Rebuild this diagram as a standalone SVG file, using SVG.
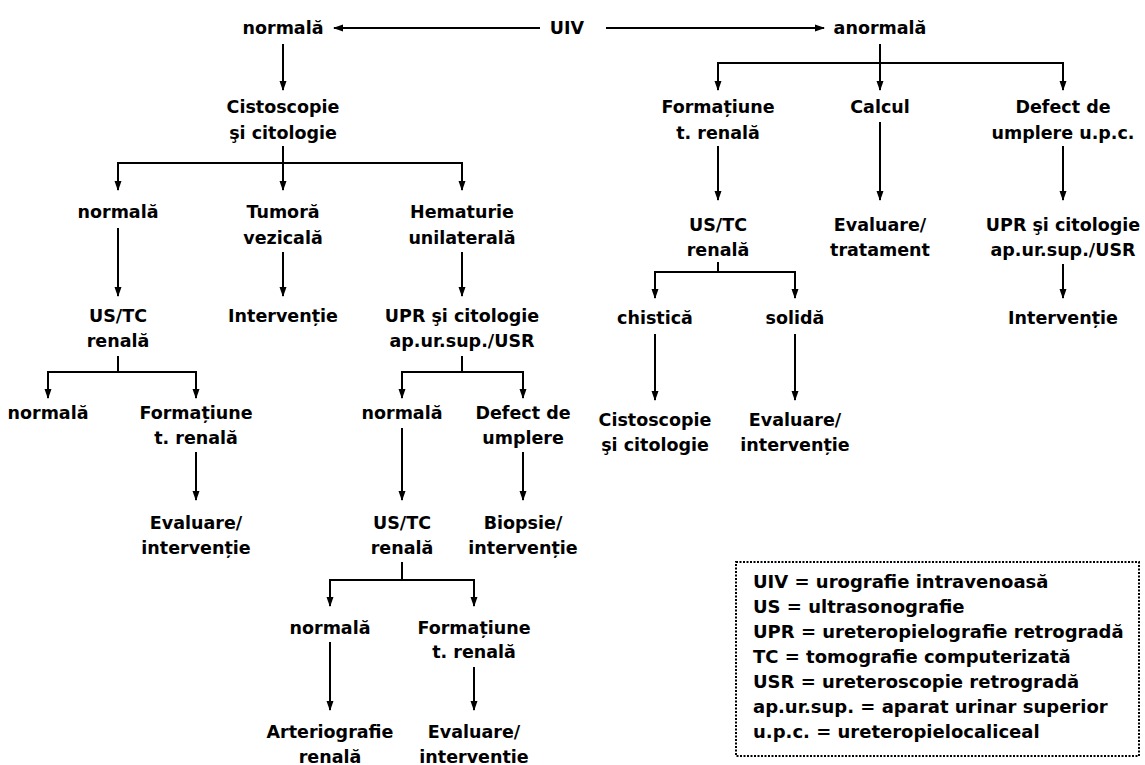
<svg xmlns="http://www.w3.org/2000/svg" width="1145" height="765" viewBox="0 0 1145 765">
<defs>
<style>
text{font-family:"DejaVu Sans","Liberation Sans",sans-serif;font-weight:bold;font-size:17.5px;fill:#000}
.n text{text-anchor:middle}
.c path{fill:none;stroke:#000;stroke-width:2;marker-end:url(#ah)}
.lg rect{fill:none;stroke:#000;stroke-width:2;stroke-dasharray:2 1.5}
.lg text{font-size:18px}
</style>
<marker id="ah" markerUnits="userSpaceOnUse" markerWidth="10" markerHeight="8" refX="9" refY="4" orient="auto">
<path d="M0,0.5 L10,4 L0,7.5 z" fill="#000"/>
</marker>
</defs>
<rect width="1145" height="765" fill="#fff"/>
<g class="c" id="connectors">
<path d="M540,28 H334"/>
<path d="M606,28 H824"/>
<path d="M283,44 V90"/>
<path d="M283,146 V190"/>
<path d="M283,163 H118 V190"/>
<path d="M283,163 H462 V190"/>
<path d="M118,228 V296"/>
<path d="M283,252 V296"/>
<path d="M462,252 V296"/>
<path d="M118,356 V372 H48 V398"/>
<path d="M118,372 H196 V398"/>
<path d="M196,452 V500"/>
<path d="M462,356 V372 H402 V398"/>
<path d="M462,372 H523 V398"/>
<path d="M402,428 V500"/>
<path d="M523,452 V500"/>
<path d="M402,562 V580 H330 V606"/>
<path d="M402,580 H474 V606"/>
<path d="M330,642 V710"/>
<path d="M474,667 V710"/>
<path d="M880,44 V90"/>
<path d="M880,63 H718 V90"/>
<path d="M880,63 H1063 V90"/>
<path d="M718,146 V200"/>
<path d="M880,122 V200"/>
<path d="M1063,146 V200"/>
<path d="M718,262 V272 H655 V298"/>
<path d="M718,272 H795 V298"/>
<path d="M1063,264 V298"/>
<path d="M655,334 V400"/>
<path d="M795,334 V400"/>
</g>
<g class="n">
<g id="n-normala0"><text x="283" y="34">normală</text></g>
<g id="n-uiv"><text x="567" y="34">UIV</text></g>
<g id="n-anormala"><text x="880" y="34">anormală</text></g>
<g id="n-cisto1"><text x="283" y="113">Cistoscopie</text><text x="283" y="139">şi citologie</text></g>
<g id="n-norm1"><text x="118" y="218">normală</text></g>
<g id="n-tumora"><text x="283" y="218">Tumoră</text><text x="283" y="244">vezicală</text></g>
<g id="n-hemat"><text x="462" y="218">Hematurie</text><text x="462" y="244">unilaterală</text></g>
<g id="n-ustc1"><text x="118" y="322">US/TC</text><text x="118" y="347">renală</text></g>
<g id="n-interv1"><text x="283" y="322">Intervenție</text></g>
<g id="n-upr1"><text x="462" y="322">UPR şi citologie</text><text x="462" y="347">ap.ur.sup./USR</text></g>
<g id="n-norm2"><text x="48" y="419">normală</text></g>
<g id="n-form2"><text x="196" y="419">Formațiune</text><text x="196" y="444">t. renală</text></g>
<g id="n-eval2"><text x="196" y="529">Evaluare/</text><text x="196" y="554">intervenție</text></g>
<g id="n-norm3"><text x="402" y="419">normală</text></g>
<g id="n-defect3"><text x="523" y="419">Defect de</text><text x="523" y="444">umplere</text></g>
<g id="n-ustc3"><text x="402" y="529">US/TC</text><text x="402" y="554">renală</text></g>
<g id="n-biopsie"><text x="523" y="529">Biopsie/</text><text x="523" y="554">intervenție</text></g>
<g id="n-norm4"><text x="330" y="634">normală</text></g>
<g id="n-form4"><text x="474" y="634">Formațiune</text><text x="474" y="658">t. renală</text></g>
<g id="n-arterio"><text x="330" y="738">Arteriografie</text><text x="330" y="763">renală</text></g>
<g id="n-eval4"><text x="474" y="738">Evaluare/</text><text x="474" y="763">interventie</text></g>
<g id="n-formR"><text x="718" y="113">Formațiune</text><text x="718" y="139">t. renală</text></g>
<g id="n-calcul"><text x="880" y="113">Calcul</text></g>
<g id="n-defectR"><text x="1063" y="113">Defect de</text><text x="1063" y="139">umplere u.p.c.</text></g>
<g id="n-ustcR"><text x="718" y="231">US/TC</text><text x="718" y="256">renală</text></g>
<g id="n-evalR"><text x="880" y="231">Evaluare/</text><text x="880" y="256">tratament</text></g>
<g id="n-uprR"><text x="1063" y="231">UPR şi citologie</text><text x="1063" y="256">ap.ur.sup./USR</text></g>
<g id="n-chistica"><text x="655" y="324">chistică</text></g>
<g id="n-solida"><text x="795" y="324">solidă</text></g>
<g id="n-intervR"><text x="1063" y="324">Intervenție</text></g>
<g id="n-cistoR"><text x="655" y="426">Cistoscopie</text><text x="655" y="451">şi citologie</text></g>
<g id="n-evalR2"><text x="795" y="426">Evaluare/</text><text x="795" y="451">intervenție</text></g>
</g>
<g class="lg" id="legend">
<rect x="736" y="562" width="403" height="194"/>
<text x="753" y="588">UIV = urografie intravenoasă</text>
<text x="753" y="613">US = ultrasonografie</text>
<text x="753" y="638">UPR = ureteropielografie retrogradă</text>
<text x="753" y="663">TC = tomografie computerizată</text>
<text x="753" y="688">USR = ureteroscopie retrogradă</text>
<text x="753" y="713">ap.ur.sup. = aparat urinar superior</text>
<text x="753" y="738">u.p.c. = ureteropielocaliceal</text>
</g>
</svg>
